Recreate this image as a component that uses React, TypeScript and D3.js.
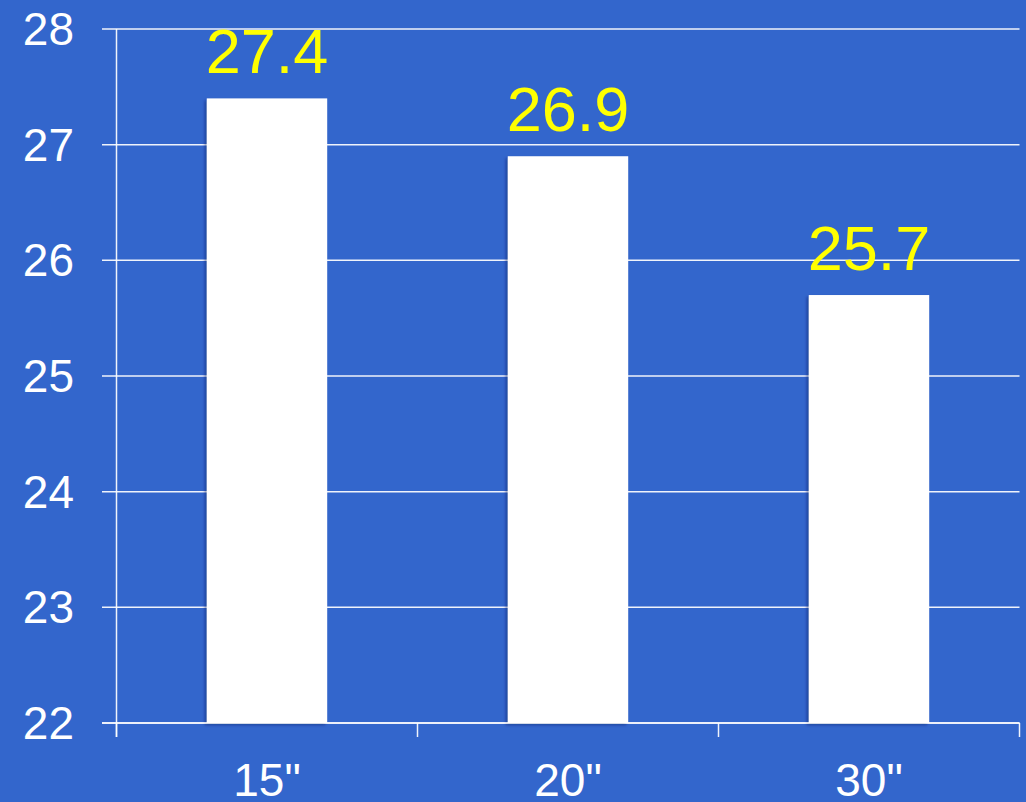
import React from "react";
import * as d3 from "d3";

const categories = ['15"', '20"', '30"'];
const values = [27.4, 26.9, 25.7];
const valueLabels = ["27.4", "26.9", "25.7"];
const yTicks = [22, 23, 24, 25, 26, 27, 28];

const W = 1026;
const H = 802;
const BG = "#3366CC";
const FONT = "'Liberation Sans', Arial, sans-serif";

export default function App() {
  const left = 116.5;
  const right = 1019.5;
  const top = 29;
  const bottom = 723;

  const x = d3.scaleBand<string>().domain(categories).range([left, right]).paddingInner(0).paddingOuter(0);
  const y = d3.scaleLinear().domain([22, 28]).range([bottom, top]);
  const barW = x.bandwidth() * 0.4;

  const boundaries = [...categories.map((c) => x(c)!), right];
  const lineStyle = { stroke: "#ffffff", strokeWidth: 1.5, opacity: 0.92 };

  return (
    <svg
      width={W}
      height={H}
      style={{ position: "absolute", left: 0, top: 0, display: "block" }}
    >
      <defs>
        <filter id="barShadow" x="-10%" y="-10%" width="120%" height="120%">
          <feDropShadow dx={-2} dy={2} stdDeviation={1.6} floodColor="#0a1f5c" floodOpacity={0.45} />
        </filter>
      </defs>
      <rect x={0} y={0} width={W} height={H} fill={BG} />

      {/* horizontal gridlines with left tick stubs */}
      {yTicks.map((t) => (
        <line key={"g" + t} x1={102} x2={right} y1={y(t)} y2={y(t)} {...lineStyle} />
      ))}

      {/* vertical axis line */}
      <line x1={left} x2={left} y1={top} y2={bottom + 14} {...lineStyle} />

      {/* category boundary ticks */}
      {boundaries.map((bx, i) => (
        <line key={"xt" + i} x1={bx} x2={bx} y1={bottom} y2={bottom + 14} {...lineStyle} />
      ))}

      {/* bars */}
      {categories.map((c, i) => {
        const cx = x(c)! + x.bandwidth() / 2;
        return (
          <rect
            key={"b" + c}
            x={cx - barW / 2}
            y={y(values[i])}
            width={barW}
            height={bottom - y(values[i])}
            fill="#ffffff"
            filter="url(#barShadow)"
          />
        );
      })}

      {/* baseline drawn over bar shadows */}
      <line x1={102} x2={right} y1={bottom} y2={bottom} {...lineStyle} />

      {/* value labels */}
      {categories.map((c, i) => {
        const cx = x(c)! + x.bandwidth() / 2;
        return (
          <text
            key={"v" + c}
            x={cx}
            y={y(values[i]) - 25}
            textAnchor="middle"
            fill="#ffff00"
            fontFamily={FONT}
            fontSize={63}
          >
            {valueLabels[i]}
          </text>
        );
      })}

      {/* y tick labels */}
      {yTicks.map((t) => (
        <text
          key={"yl" + t}
          x={74}
          y={y(t)}
          dy="0.35em"
          textAnchor="end"
          fill="#ffffff"
          fontFamily={FONT}
          fontSize={46}
        >
          {t}
        </text>
      ))}

      {/* x category labels */}
      {categories.map((c) => (
        <text
          key={"xl" + c}
          x={x(c)! + x.bandwidth() / 2}
          y={796}
          textAnchor="middle"
          fill="#ffffff"
          fontFamily={FONT}
          fontSize={46}
        >
          {c}
        </text>
      ))}
    </svg>
  );
}
